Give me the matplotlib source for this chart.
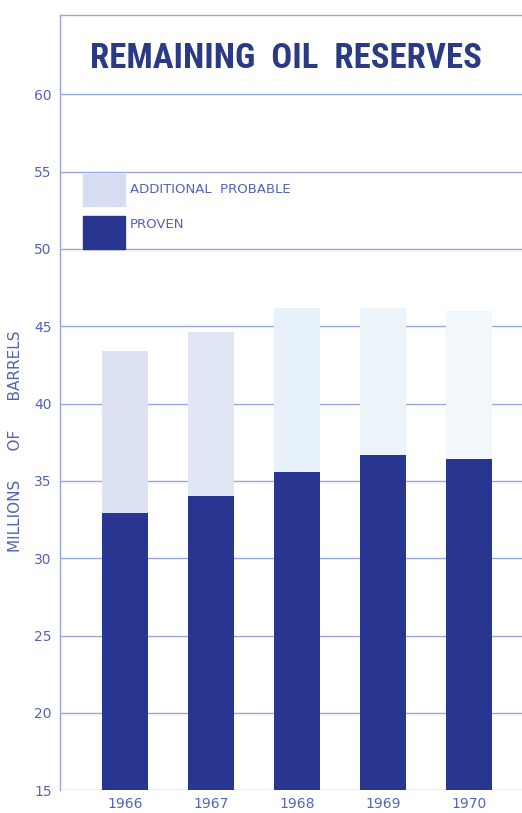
import numpy as np
import matplotlib
matplotlib.use("Agg")
import matplotlib.pyplot as plt
from matplotlib.patches import Rectangle
from matplotlib import font_manager

years = ["1966", "1967", "1968", "1969", "1970"]
proven = [32.9, 34.0, 35.6, 36.7, 36.4]
total = [43.4, 44.6, 46.2, 46.2, 46.0]
probable = [t - p for t, p in zip(total, proven)]
yticks = [15, 20, 25, 30, 35, 40, 45, 50, 55, 60]

navy = "#283591"
grid_c = "#9aa6de"
label_c = "#5563b4"
# the pale print fades a little from left to right
light = ["#dde2f3", "#e1e6f5", "#e6f1fa", "#edf5fb", "#f2f7fb"]

# pick a narrow bold face for the heading if one is around
names = {f.name for f in font_manager.fontManager.ttflist}
title_font = "DejaVu Sans"
for cand in ["Liberation Sans Narrow", "Roboto Condensed", "DejaVu Sans Condensed"]:
    if cand in names:
        title_font = cand
        break

fig = plt.figure(figsize=(5.22, 8.13), dpi=100)
ax = fig.add_axes([0.115, 0.028, 0.885, 0.953])

x = np.arange(len(years))
ax.bar(x, proven, width=0.54, bottom=0, color=navy, zorder=3)
ax.bar(x, probable, width=0.54, bottom=proven, color=light, zorder=3)

ax.set_ylim(15, 65.1)
ax.set_xlim(-0.756, 4.616)
ax.set_yticks(yticks)
ax.set_xticks(x)
ax.set_xticklabels(years)
ax.yaxis.grid(True, color=grid_c, linewidth=1.0, zorder=1)
ax.tick_params(axis="both", length=0, colors=label_c, labelsize=10)
ax.tick_params(axis="y", pad=6)
ax.tick_params(axis="x", pad=5)

for side in ["right", "bottom"]:
    ax.spines[side].set_visible(False)
ax.spines["left"].set_color(grid_c)
ax.spines["top"].set_color(grid_c)
ax.spines["left"].set_linewidth(1.0)
ax.spines["top"].set_linewidth(1.0)

ax.set_ylabel("MILLIONS      OF      BARRELS", color=label_c, fontsize=11)
ax.yaxis.set_label_coords(-0.08, 0.45)

size = 25 if title_font != "DejaVu Sans" else 18
ax.text(0.49, 62.3, "REMAINING  OIL  RESERVES", ha="center", va="center",
        fontsize=size, fontweight="bold", color="#2b3a85",
        family=title_font, transform=ax.get_yaxis_transform())

# legend keys
ax.add_patch(Rectangle((-0.49, 52.8), 0.49, 2.05, color="#d6dcf1",
                       zorder=3, clip_on=False))
ax.add_patch(Rectangle((-0.49, 50.0), 0.49, 2.1, color=navy,
                       zorder=3, clip_on=False))
ax.text(0.06, 53.85, "ADDITIONAL  PROBABLE", va="center", fontsize=9.5,
        color=label_c)
ax.text(0.06, 51.55, "PROVEN", va="center", fontsize=9.5, color=label_c)

fig.savefig("out.png", dpi=100)
